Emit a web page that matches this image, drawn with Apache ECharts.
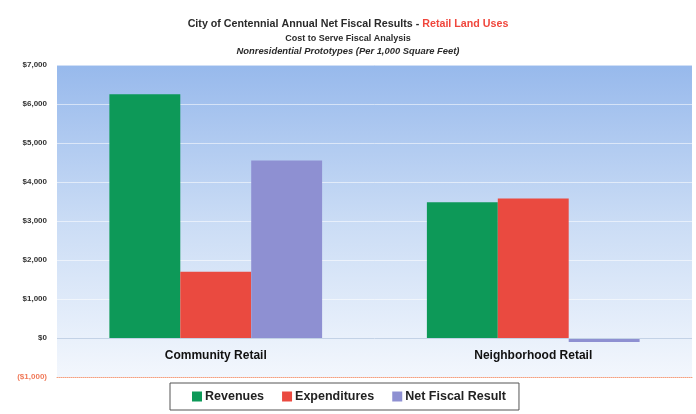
<!DOCTYPE html>
<html><head><meta charset="utf-8">
<script src="https://cdn.jsdelivr.net/npm/echarts@6/dist/echarts.min.js"></script>
<style>html,body{margin:0;padding:0;background:#fff}#c{width:696px;height:414px}</style>
</head><body><div id="c"></div>
<script>
const categories = ['Community Retail', 'Neighborhood Retail'];
const revenues = [6250, 3480];
const expenditures = [1700, 3580];
const netFiscal = [4550, -100];
const yTicks = { min: -1000, max: 7000, interval: 1000 };

const chart = echarts.init(document.getElementById('c'));
function money(v){
  if (v < 0) return '($' + Math.abs(v).toLocaleString('en-US') + ')';
  return '$' + v.toLocaleString('en-US');
}
chart.setOption({
  animation: false,
  backgroundColor: '#ffffff',
  title: [
    { text: '{a|City of Centennial Annual Net Fiscal Results - }{b|Retail Land Uses}', left: 'center', top: 14,
      textStyle: { rich: { a: { fontSize: 10.7, fontWeight: 'bold', color: '#2a2a2a', fontFamily: 'Liberation Sans' },
                           b: { fontSize: 10.7, fontWeight: 'bold', color: '#f0463c', fontFamily: 'Liberation Sans' } } } },
    { text: 'Cost to Serve Fiscal Analysis', left: 'center', top: 29,
      textStyle: { fontSize: 9, fontWeight: 'bold', color: '#2a2a2a', fontFamily: 'Liberation Sans' } },
    { text: 'Nonresidential Prototypes (Per 1,000 Square Feet)', left: 'center', top: 42,
      textStyle: { fontSize: 9.4, fontWeight: 'bold', fontStyle: 'italic', color: '#2a2a2a', fontFamily: 'Liberation Sans' } }
  ],
  legend: {
    top: 383, left: 170,
    itemWidth: 10, itemHeight: 10, itemGap: 18,
    icon: 'rect',
    borderColor: '#555', borderWidth: 1, padding: [7, 13, 7, 22],
    backgroundColor: '#fff',
    textStyle: { fontSize: 12.5, fontWeight: 'bold', color: '#222', fontFamily: 'Liberation Sans', padding: [0, 0, 0, -2] },
    data: ['Revenues', 'Expenditures', 'Net Fiscal Result']
  },
  grid: {
    left: 57, right: 4, top: 65, bottom: 37,
    show: true, borderWidth: 0,
    backgroundColor: new echarts.graphic.LinearGradient(0, 0, 0, 1, [
      { offset: 0, color: '#97b9ec' },
      { offset: 0.5, color: '#cadcf5' },
      { offset: 1, color: '#f3f7fd' }
    ])
  },
  xAxis: {
    type: 'category', data: categories,
    axisLine: { onZero: false, lineStyle: { color: '#f4a080', type: 'dotted', width: 1 } },
    axisTick: { show: false },
    axisLabel: { fontSize: 12, fontWeight: 'bold', color: '#111', margin: -27, fontFamily: 'Liberation Sans' }
  },
  yAxis: {
    type: 'value', min: yTicks.min, max: yTicks.max, interval: yTicks.interval,
    axisLine: { show: false }, axisTick: { show: false },
    splitLine: { lineStyle: { color: 'rgba(255,255,255,0.55)', width: 1 } },
    axisLabel: {
      fontSize: 8, fontWeight: 'bold', margin: 10, fontFamily: 'Liberation Sans',
      formatter: money,
      color: function (v) { return v < 0 ? '#f07a5a' : '#333'; }
    }
  },
  series: [
    { name: 'Revenues', type: 'bar', data: revenues, barGap: '0%', barCategoryGap: '33%',
      itemStyle: { color: '#0d9958' },
      markLine: { silent: true, symbol: 'none', label: { show: false },
        lineStyle: { color: '#c3d2e6', type: 'solid', width: 1 }, data: [{ yAxis: 0 }] } },
    { name: 'Expenditures', type: 'bar', data: expenditures,
      itemStyle: { color: '#ea4a40' } },
    { name: 'Net Fiscal Result', type: 'bar', data: netFiscal,
      itemStyle: { color: '#8e90d2' } }
  ]
});
</script></body></html>
